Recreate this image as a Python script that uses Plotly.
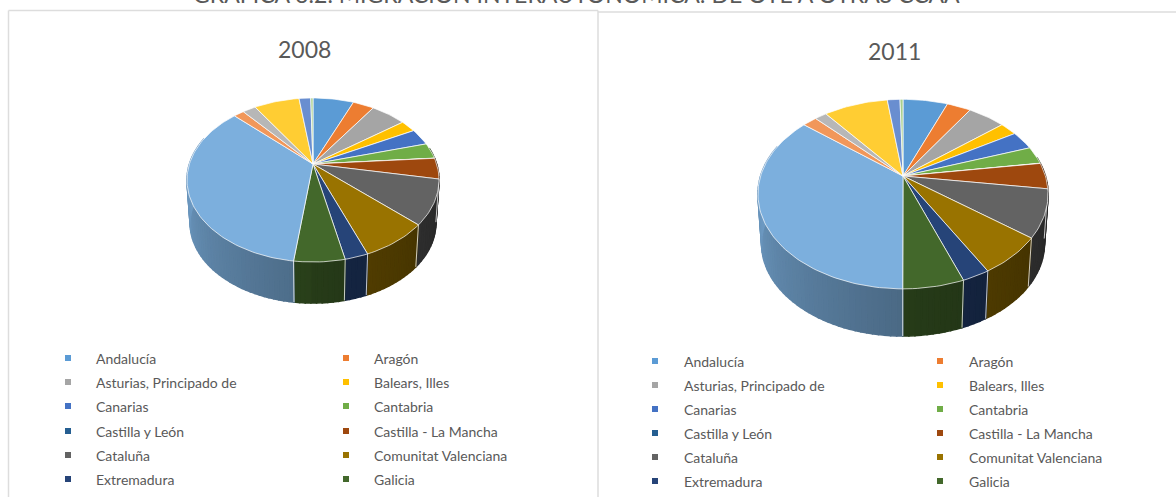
import math
import plotly.graph_objects as go

categories = ["Andalucía", "Aragón", "Asturias, Principado de", "Balears, Illes", "Canarias", "Cantabria",
              "Castilla y León", "Castilla - La Mancha", "Cataluña", "Comunitat Valenciana", "Extremadura", "Galicia",
              "Madrid, Comunidad de", "Murcia, Región de", "Navarra, Comunidad Foral de", "País Vasco", "Rioja, La", "Ceuta"]
values_2008 = [6.3, 3.25, 5.4, 2.4, 3.3, 3.1, 0.05, 4.1, 8.75, 7.4, 2.5, 5.4, 35.1, 1.6, 2.05, 7.0, 1.8, 0.35]
values_2011 = [6.0, 3.2, 5.0, 2.3, 3.2, 3.0, 0.05, 4.45, 8.1, 6.45, 2.6, 5.7, 35.8, 1.9, 1.6, 8.6, 1.7, 0.4]
colors = ["#5B9BD5", "#ED7D31", "#A5A5A5", "#FFC000", "#4472C4", "#70AD47", "#255E91", "#9E480E", "#636363",
          "#997300", "#264478", "#43682B", "#7CAFDD", "#F1975A", "#B7B7B7", "#FFCD33", "#698ED0", "#A9CF8E"]
legend_count = 12
FONT = "Lato"
TEXT = "#595959"

fig = go.Figure()


def rgb(hexc, f=1.0):
    return "rgb(%d,%d,%d)" % tuple(round(int(hexc[i:i + 2], 16) * f) for i in (1, 3, 5))


def shade(t):
    if t <= 180:
        return 0.37 + max(t - 90, 0) / 90 * 0.2
    return 0.60 + min(t - 180, 90) / 90 * 0.28


def pie3d(values, ax, ay, A, B, k, depth, taper=0.975):
    total = sum(values)

    def top(t):
        r = math.radians(t)
        X, Y = math.sin(r), math.cos(r)
        w = 1 + k * Y
        return ax + A * X / w, ay - B * Y / w

    def low(t):
        x, y = top(t)
        return ax + (x - ax) * taper, ay + depth + (y - ay) * taper

    bounds = [0]
    for v in values:
        bounds.append(bounds[-1] + v / total * 360)

    # side wall, strip by strip so the shading can vary
    for i, c in enumerate(colors):
        a0, a1 = max(bounds[i], 78), min(bounds[i + 1], 290)
        if a1 <= a0:
            continue
        n = max(1, int((a1 - a0) / 2))
        for j in range(n):
            t0 = a0 + (a1 - a0) * j / n
            t1 = a0 + (a1 - a0) * (j + 1) / n
            f = shade((t0 + t1) / 2)
            p = [top(t0), top(t1), low(t1), low(t0), top(t0)]
            col = rgb(c, f)
            fig.add_trace(go.Scatter(x=[q[0] for q in p], y=[q[1] for q in p], mode="lines", fill="toself",
                                     fillcolor=col, line=dict(color=col, width=1.5), hoverinfo="skip",
                                     showlegend=False))
    for t in bounds[:-1]:
        if 95 < t < 200:
            p = [top(t), low(t)]
            fig.add_trace(go.Scatter(x=[q[0] for q in p], y=[q[1] for q in p], mode="lines",
                                     line=dict(color="rgba(255,255,255,0.75)", width=1), hoverinfo="skip",
                                     showlegend=False))
    # top face
    for i, c in enumerate(colors):
        a0, a1 = bounds[i], bounds[i + 1]
        n = max(2, int((a1 - a0) / 1.5))
        pts = [(ax, ay)] + [top(a0 + (a1 - a0) * j / n) for j in range(n + 1)] + [(ax, ay)]
        fig.add_trace(go.Scatter(x=[q[0] for q in pts], y=[q[1] for q in pts], mode="lines", fill="toself",
                                 fillcolor=c, line=dict(color="rgba(255,255,255,0.7)", width=1),
                                 name=categories[i], text=f"{categories[i]}: {values[i]}%", hoverinfo="text",
                                 showlegend=False))


def legend(x_marks, x_texts, rows):
    for i in range(legend_count):
        xm, xt = x_marks[i % 2], x_texts[i % 2]
        y = rows[i // 2]
        fig.add_trace(go.Scatter(x=[xm], y=[y], mode="markers",
                                 marker=dict(symbol="square", size=6, color=colors[i]),
                                 hoverinfo="skip", showlegend=False))
        fig.add_annotation(x=xt, y=y, text=categories[i], showarrow=False, xanchor="left", yanchor="middle",
                           font=dict(family=FONT, size=14, color=TEXT))


pie3d(values_2008, 313, 164, 123.6, 78.9, 0.195, 43.5)
pie3d(values_2011, 903, 176, 142.4, 91.3, 0.191, 50)
legend((68, 346), (93.5, 371.5), (358, 382, 406, 431, 455, 479))
legend((655, 940), (682, 966.5), (361, 385, 409, 433, 457, 481))

fig.add_annotation(x=304, y=49, text="2008", showarrow=False, font=dict(family=FONT, size=23, color=TEXT))
fig.add_annotation(x=894, y=51, text="2011", showarrow=False, font=dict(family=FONT, size=23, color=TEXT))
fig.add_annotation(x=576, y=0, yshift=6, text="GRÁFICA 3.2. MIGRACIÓN INTERAUTONÓMICA: DE OTE A OTRAS CCAA",
                   showarrow=False, yanchor="middle", font=dict(family=FONT, size=23, color=TEXT))

BORDER = "#DDDDDD"
for x0, y0, x1, y1 in [(8.5, 10.5, 598, 10.5), (8.5, 10.5, 8.5, 497), (598, 10.5, 598, 497), (598, 12, 1176, 12)]:
    fig.add_shape(type="line", x0=x0, y0=y0, x1=x1, y1=y1, line=dict(color=BORDER, width=1.5), layer="below")

fig.update_layout(width=1176, height=497, margin=dict(l=0, r=0, t=0, b=0), paper_bgcolor="white",
                  plot_bgcolor="white", showlegend=False,
                  xaxis=dict(range=[0, 1176], visible=False, fixedrange=True),
                  yaxis=dict(range=[497, 0], visible=False, fixedrange=True))
fig.write_html("out.html", config={"displayModeBar": False},
               post_script="document.body.style.margin='0';document.body.style.overflow='hidden';")
